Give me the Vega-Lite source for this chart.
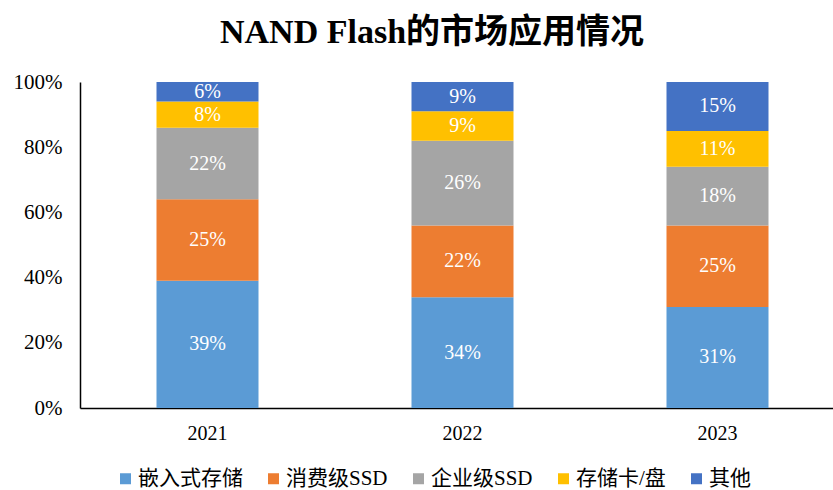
{
  "$schema": "https://vega.github.io/schema/vega-lite/v6.json",
  "width": 765,
  "height": 326,
  "autosize": {"type": "none"},
  "padding": {"left": 80, "top": 82, "right": 0, "bottom": 82},
  "background": "white",
  "config": {"view": {"stroke": null}, "font": "Liberation Serif, Noto Sans CJK SC"},
  "title": {
    "text": "NAND Flash的市场应用情况",
    "font": "Liberation Serif, Noto Sans CJK SC",
    "fontSize": 34,
    "fontWeight": "bold",
    "color": "#000000",
    "anchor": "start",
    "frame": "group",
    "dx": 140,
    "offset": 21
  },
  "data": {
    "values": [
      {"year": "2021", "type": "嵌入式存储", "order": 1, "value": 39},
      {"year": "2021", "type": "消费级SSD", "order": 2, "value": 25},
      {"year": "2021", "type": "企业级SSD", "order": 3, "value": 22},
      {"year": "2021", "type": "存储卡/盘", "order": 4, "value": 8},
      {"year": "2021", "type": "其他", "order": 5, "value": 6},
      {"year": "2022", "type": "嵌入式存储", "order": 1, "value": 34},
      {"year": "2022", "type": "消费级SSD", "order": 2, "value": 22},
      {"year": "2022", "type": "企业级SSD", "order": 3, "value": 26},
      {"year": "2022", "type": "存储卡/盘", "order": 4, "value": 9},
      {"year": "2022", "type": "其他", "order": 5, "value": 9},
      {"year": "2023", "type": "嵌入式存储", "order": 1, "value": 31},
      {"year": "2023", "type": "消费级SSD", "order": 2, "value": 25},
      {"year": "2023", "type": "企业级SSD", "order": 3, "value": 18},
      {"year": "2023", "type": "存储卡/盘", "order": 4, "value": 11},
      {"year": "2023", "type": "其他", "order": 5, "value": 15}
    ]
  },
  "transform": [
    {"stack": "value", "groupby": ["year"], "sort": [{"field": "order", "order": "ascending"}], "as": ["v0", "v1"]},
    {"calculate": "(datum.v0 + datum.v1) / 2", "as": "mid"},
    {"calculate": "datum.value + '%'", "as": "label"}
  ],
  "encoding": {
    "x": {
      "field": "year",
      "type": "nominal",
      "scale": {"paddingInner": 0.6, "paddingOuter": 0.3},
      "axis": {
        "title": null,
        "labelAngle": 0,
        "labelFontSize": 20,
        "labelColor": "#000000",
        "labelFont": "Liberation Serif",
        "labelPadding": 15,
        "ticks": false,
        "domainColor": "#000000",
        "domainWidth": 1.5
      }
    }
  },
  "layer": [
    {
      "mark": {"type": "bar"},
      "encoding": {
        "y": {
          "field": "v0",
          "type": "quantitative",
          "scale": {"domain": [0, 100]},
          "axis": {
            "title": null,
            "values": [0, 20, 40, 60, 80, 100],
            "labelExpr": "datum.value + '%'",
            "labelFontSize": 21,
            "labelColor": "#000000",
            "labelFont": "Liberation Serif",
            "labelPadding": 18,
            "ticks": false,
            "grid": false,
            "domainColor": "#000000",
            "domainWidth": 1.5
          }
        },
        "y2": {"field": "v1"},
        "color": {
          "field": "type",
          "type": "nominal",
          "sort": ["嵌入式存储", "消费级SSD", "企业级SSD", "存储卡/盘", "其他"],
          "scale": {
            "domain": ["嵌入式存储", "消费级SSD", "企业级SSD", "存储卡/盘", "其他"],
            "range": ["#5B9BD5", "#ED7D31", "#A5A5A5", "#FFC000", "#4472C4"]
          },
          "legend": {
            "title": null,
            "orient": "none",
            "direction": "horizontal",
            "legendX": 35,
            "legendY": 386,
            "padding": 0,
            "symbolType": "square",
            "symbolSize": 121,
            "symbolStrokeWidth": 0,
            "labelFontSize": 21,
            "labelFont": "Liberation Serif, Noto Sans CJK SC",
            "labelColor": "#000000",
            "labelBaseline": "middle",
            "labelOffset": 2,
            "columnPadding": 20
          }
        }
      }
    },
    {
      "mark": {"type": "text", "color": "white", "fontSize": 20, "font": "Liberation Serif", "baseline": "middle"},
      "encoding": {
        "y": {"field": "mid", "type": "quantitative"},
        "text": {"field": "label", "type": "nominal"},
        "detail": {"field": "type"}
      }
    }
  ]
}
